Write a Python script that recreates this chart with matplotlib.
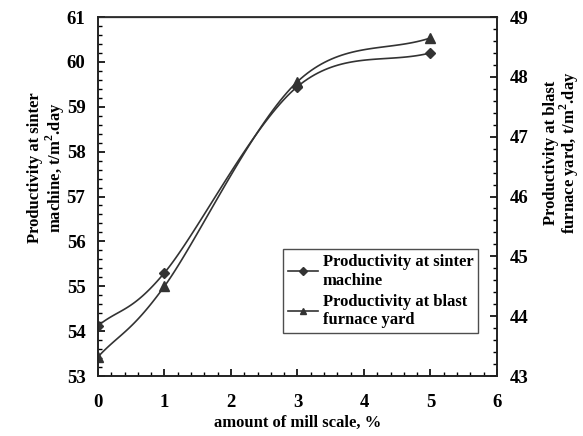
import matplotlib
matplotlib.use('Agg')
import matplotlib.pyplot as plt
import numpy as np
from matplotlib.ticker import MultipleLocator

plt.rcParams['font.family'] = ['Liberation Serif', 'DejaVu Serif']
plt.rcParams['font.weight'] = 'bold'
plt.rcParams['mathtext.fontset'] = 'custom'
plt.rcParams['mathtext.rm'] = 'Liberation Serif:bold'

mill_scale = [0, 1, 3, 5]
sinter = [54.12, 55.3, 59.45, 60.2]
blast = [43.32, 44.5, 47.92, 48.65]


def smooth(x, y, n=40):
    # catmull-rom style smoothing, like the spreadsheet "smoothed line"
    x = np.asarray(x, float)
    y = np.asarray(y, float)
    px = np.concatenate([[2 * x[0] - x[1]], x, [2 * x[-1] - x[-2]]])
    py = np.concatenate([[2 * y[0] - y[1]], y, [2 * y[-1] - y[-2]]])
    xs, ys = [], []
    for i in range(1, len(px) - 2):
        t = np.linspace(0, 1, n)
        b1x = px[i] + (px[i + 1] - px[i - 1]) / 6
        b1y = py[i] + (py[i + 1] - py[i - 1]) / 6
        b2x = px[i + 1] - (px[i + 2] - px[i]) / 6
        b2y = py[i + 1] - (py[i + 2] - py[i]) / 6
        bx = (1 - t) ** 3 * px[i] + 3 * (1 - t) ** 2 * t * b1x + 3 * (1 - t) * t ** 2 * b2x + t ** 3 * px[i + 1]
        by = (1 - t) ** 3 * py[i] + 3 * (1 - t) ** 2 * t * b1y + 3 * (1 - t) * t ** 2 * b2y + t ** 3 * py[i + 1]
        xs.append(bx)
        ys.append(by)
    return np.concatenate(xs), np.concatenate(ys)


fig = plt.figure(figsize=(5.83, 4.36), dpi=100)
ax = fig.add_axes([0.168, 0.1376, 0.6845, 0.8234])
ax2 = ax.twinx()

col = '#333333'
sx, sy = smooth(mill_scale, sinter)
ax.plot(sx, sy, color=col, lw=1.2)
ax.plot(mill_scale, sinter, color=col, marker='D', ms=5, linestyle='none')
bx, by = smooth(mill_scale, blast)
ax2.plot(bx, by, color=col, lw=1.2)
ax2.plot(mill_scale, blast, color=col, marker='^', ms=6.5, linestyle='none')

ax.set_xlim(0, 6)
ax.set_ylim(53, 61)
ax2.set_ylim(43, 49)
ax.xaxis.set_major_locator(MultipleLocator(1))
ax.xaxis.set_minor_locator(MultipleLocator(0.2))
ax.yaxis.set_major_locator(MultipleLocator(1))
ax.yaxis.set_minor_locator(MultipleLocator(0.2))
ax2.yaxis.set_major_locator(MultipleLocator(1))
ax2.yaxis.set_minor_locator(MultipleLocator(0.2))

for a in (ax, ax2):
    a.tick_params(which='major', direction='in', length=5, width=1.2, labelsize=13.5, pad=9)
    a.tick_params(which='minor', direction='in', length=3, width=1)
    for s in a.spines.values():
        s.set_linewidth(1.2)
        s.set_color('#222222')
ax.tick_params(axis='x', pad=13)
ax.spines['top'].set_color('#666666')
ax.spines['top'].set_linewidth(1)

ax.set_xlabel('amount of mill scale, %', fontsize=12, fontweight='bold', labelpad=3)
fig.text(47 / 583, 1 - 168 / 436, 'Productivity at sinter\nmachine, t/m$^2$.day', rotation=90,
         ha='center', va='center', fontsize=12, fontweight='bold', linespacing=1.05, multialignment='center')
fig.text(562 / 583, 1 - 153 / 436, 'Productivity at blast\nfurnace yard, t/m$^2$.day', rotation=90,
         ha='center', va='center', fontsize=12, fontweight='bold', linespacing=0.92, multialignment='center')

h1 = plt.Line2D([], [], color=col, lw=1.2, marker='D', ms=4)
h2 = plt.Line2D([], [], color=col, lw=1.2, marker='^', ms=5)
leg = ax.legend([h1, h2], ['Productivity at sinter\nmachine', 'Productivity at blast\nfurnace yard'],
                loc='lower right', bbox_to_anchor=(0.953, 0.12), fontsize=12, frameon=True,
                fancybox=False, edgecolor='#222222', handlelength=1.8, handletextpad=0.3,
                borderpad=0.3, labelspacing=0.3, borderaxespad=0)
leg.get_frame().set_linewidth(1)

fig.savefig('out.png', dpi=100)
